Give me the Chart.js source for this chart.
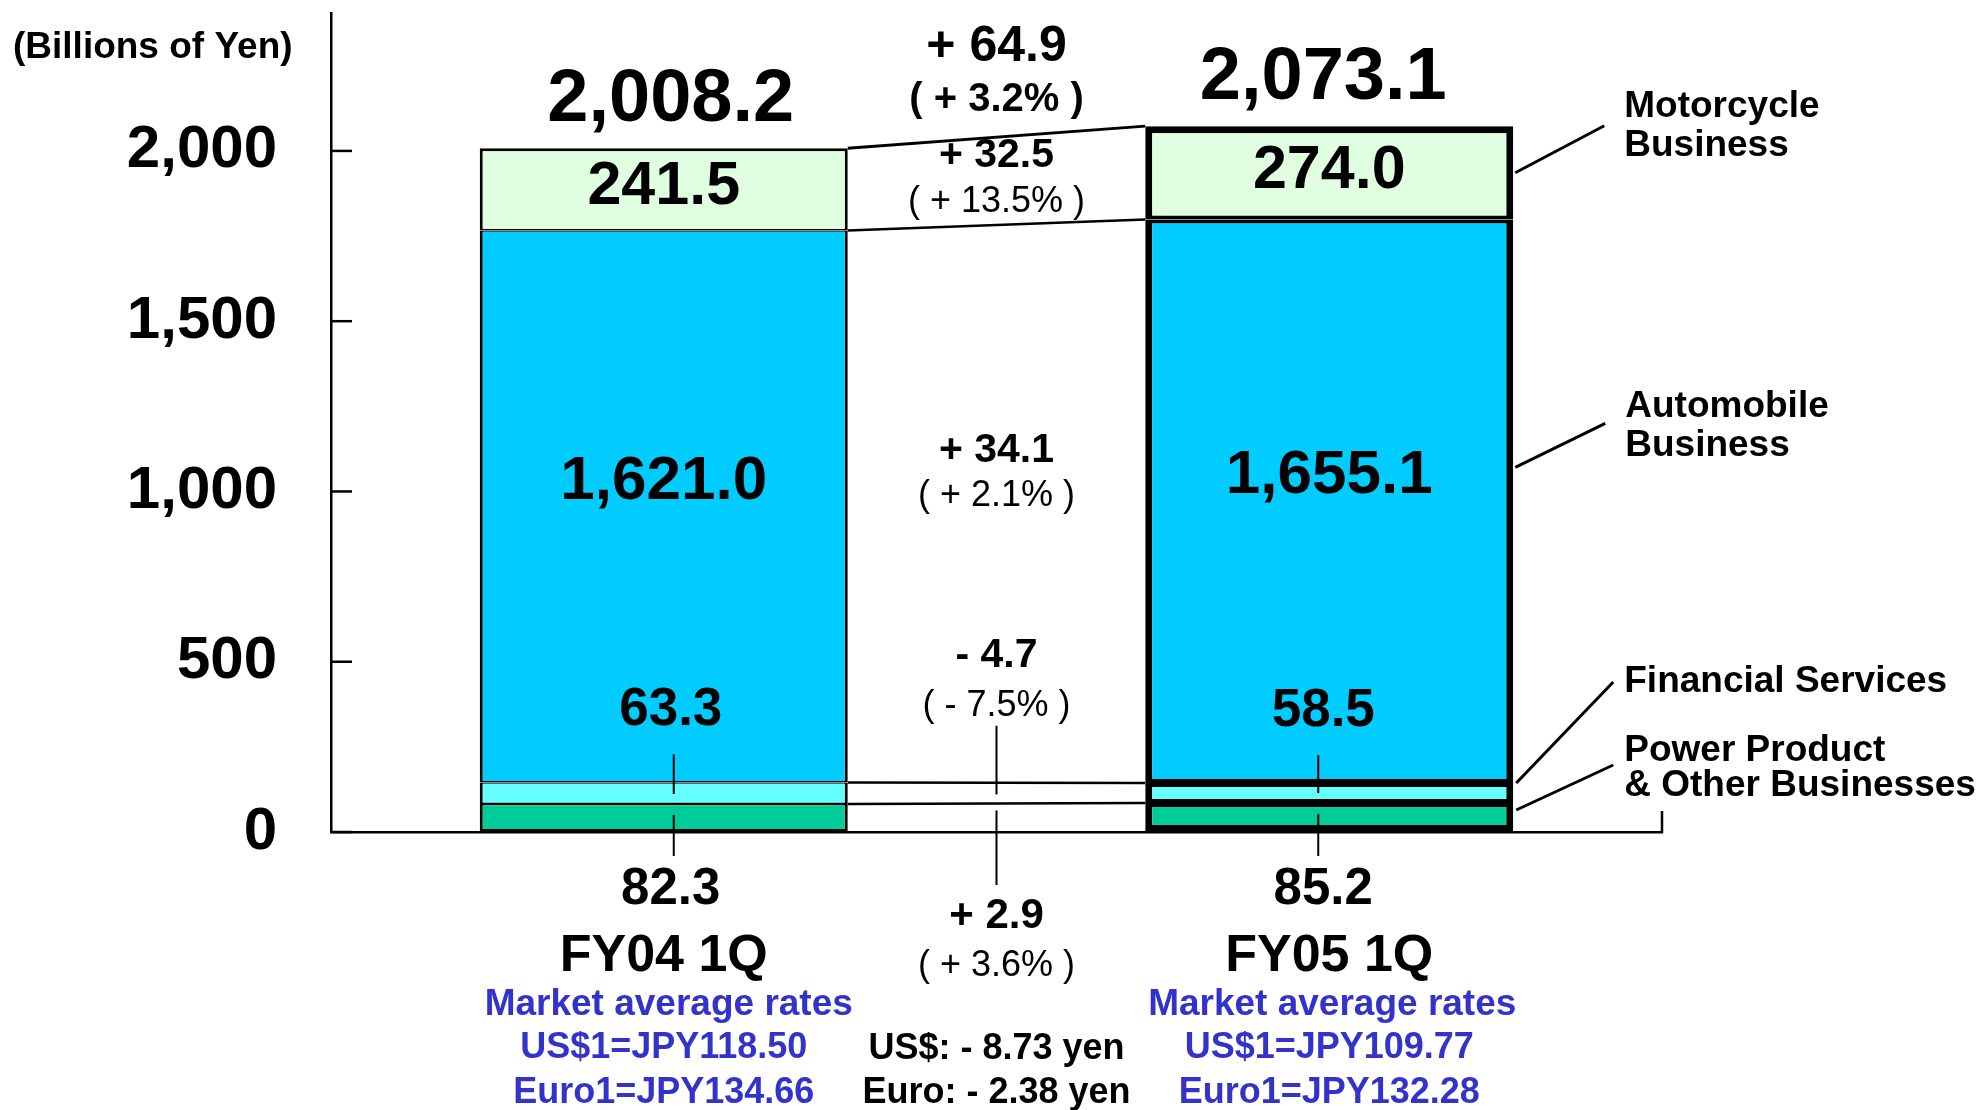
<!DOCTYPE html>
<html>
<head>
<meta charset="utf-8">
<script src="https://cdn.jsdelivr.net/npm/chart.js@4.4.1/dist/chart.umd.min.js"></script>
<style>
  html, body { margin: 0; padding: 0; background: #fff; }
  canvas { display: block; }
</style>
</head>
<body>
<canvas id="sales" width="1980" height="1110"></canvas>
<script>
// Net sales by business segment, first quarter comparison (billions of yen)
const categories = ['FY04 1Q', 'FY05 1Q'];
const segmentNames = ['Power Product & Other Businesses', 'Financial Services', 'Automobile Business', 'Motorcycle Business'];
const powerProduct = [82.3, 85.2];
const financialServices = [63.3, 58.5];
const automobile = [1621.0, 1655.1];
const motorcycle = [241.5, 274.0];
const totals = [2008.2, 2073.1];
const yTicks = [0, 500, 1000, 1500, 2000];
// year-on-year change: total, motorcycle, automobile, financial, power product
const changeAmounts = ['+ 64.9', '+ 32.5', '+ 34.1', '- 4.7', '+ 2.9'];
const changePercents = ['( + 3.2% )', '( + 13.5% )', '( + 2.1% )', '( - 7.5% )', '( + 3.6% )'];
const rateTitle = 'Market average rates';
const usdRates = ['US$1=JPY118.50', 'US$1=JPY109.77'];
const euroRates = ['Euro1=JPY134.66', 'Euro1=JPY132.28'];
const rateChanges = ['US$: - 8.73 yen', 'Euro: - 2.38 yen'];
const unitLabel = '(Billions of Yen)';
const sideLabels = [['Motorcycle', 'Business'], ['Automobile', 'Business'], ['Financial Services'], ['Power Product', '& Other Businesses']];

const FAMILY = '"Liberation Sans", Arial, Helvetica, sans-serif';
const segmentColors = ['#00CC99', '#66FFFF', '#00CCFF', '#E0FFE0'];
const BLUE = '#3333CC';

const fmt1 = v => v.toLocaleString('en-US', { minimumFractionDigits: 1, maximumFractionDigits: 1 });

const seriesList = [powerProduct, financialServices, automobile, motorcycle];

// thin outline on the first quarter, heavy outline on the current quarter
function segmentBorder(index) {
  return ctx => {
    const heavy = ctx.dataIndex === 1;
    const outer = heavy ? 7 : 3;
    const inner = heavy ? 4 : 1.4;
    return {
      left: outer,
      right: outer,
      top: index === seriesList.length - 1 ? outer : inner,
      bottom: index === 0 ? outer : inner
    };
  };
}

const datasets = seriesList.map((values, i) => ({
  label: segmentNames[i],
  data: values,
  backgroundColor: segmentColors[i],
  borderColor: '#000',
  borderSkipped: false,
  borderWidth: segmentBorder(i)
}));

function text(ctx, s, x, y, size, bold, color, align) {
  ctx.font = (bold ? 'bold ' : '') + size + 'px ' + FAMILY;
  ctx.fillStyle = color || '#000';
  ctx.textAlign = align || 'center';
  ctx.textBaseline = 'middle';
  ctx.fillText(s, x, y);
}

function line(ctx, x1, y1, x2, y2, w) {
  ctx.lineWidth = w;
  ctx.beginPath();
  ctx.moveTo(x1, y1);
  ctx.lineTo(x2, y2);
  ctx.stroke();
}

const annotations = {
  id: 'annotations',
  afterDraw(chart) {
    const { ctx, chartArea: area, scales: { y } } = chart;
    const metas = seriesList.map((_, i) => chart.getDatasetMeta(i));
    const el = (s, j) => metas[s].data[j];
    const base = y.getPixelForValue(0);
    const TOP = 3, AUTO = 2, FIN = 1, POW = 0;

    ctx.save();
    ctx.strokeStyle = '#000';
    ctx.lineCap = 'butt';

    // inward tick marks on the value axis
    yTicks.forEach(v => {
      const py = y.getPixelForValue(v);
      line(ctx, area.left, py, area.left + 21, py, 2.5);
    });
    // short upturn at the right end of the baseline
    line(ctx, area.right, base - 21, area.right, base + 1, 2.5);

    const b0 = el(0, 0), b1 = el(0, 1);
    const x0R = b0.x + b0.width / 2;
    const x1L = b1.x - b1.width / 2;
    const x1R = b1.x + b1.width / 2;
    const midX = (x0R + x1L) / 2;
    const shift = [7, -6];

    // connectors between segment boundaries of the two bars
    for (let s = 0; s < seriesList.length; s++) {
      line(ctx, x0R, el(s, 0).y, x1L, el(s, 1).y, s === TOP ? 3 : 2.5);
    }

    // per-bar labels
    categories.forEach((c, j) => {
      const cx = el(0, j).x;
      const top = el(TOP, j);
      const auto = el(AUTO, j);
      const fin = el(FIN, j);
      const pow = el(POW, j);

      text(ctx, fmt1(totals[j]), cx + shift[j], top.y - 48, 74, true);
      text(ctx, fmt1(motorcycle[j]), cx, (top.y + top.base) / 2 - 2, 61, true);
      text(ctx, fmt1(automobile[j]), cx, auto.y + 0.455 * (auto.base - auto.y), 62, true);
      text(ctx, fmt1(financialServices[j]), cx + shift[j], fin.y - 72, 53, true);
      text(ctx, fmt1(powerProduct[j]), cx + shift[j], base + 58, 51, true);

      const lx = cx + (j === 0 ? 10 : -11);
      line(ctx, lx, fin.y - 28, lx, pow.y - 10, 2);
      line(ctx, lx, pow.y + 11, lx, base + 24, 2);

      text(ctx, rateTitle, cx + (j === 0 ? 5 : 3), base + 173, 37, true, BLUE);
      text(ctx, usdRates[j], cx, base + 216, 36, true, BLUE);
      text(ctx, euroRates[j], cx, base + 261, 36, true, BLUE);
    });

    // change column between the bars
    const avgTop = (el(TOP, 0).y + el(TOP, 1).y) / 2;
    const avgAutoMid = (el(AUTO, 0).y + el(AUTO, 0).base + el(AUTO, 1).y + el(AUTO, 1).base) / 4;
    const avgFinTop = (el(FIN, 0).y + el(FIN, 1).y) / 2;
    const avgPowTop = (el(POW, 0).y + el(POW, 1).y) / 2;

    text(ctx, changeAmounts[0], midX, avgTop - 90, 50, true);
    text(ctx, changePercents[0], midX, avgTop - 37, 40, true);
    text(ctx, changeAmounts[1], midX, avgTop + 19, 41, true);
    text(ctx, changePercents[1], midX, avgTop + 65, 36, false);
    text(ctx, changeAmounts[2], midX, avgAutoMid - 53, 41, true);
    text(ctx, changePercents[2], midX, avgAutoMid - 8, 36, false);
    text(ctx, changeAmounts[3], midX, avgFinTop - 127, 41, true);
    text(ctx, changePercents[3], midX, avgFinTop - 77, 36, false);
    text(ctx, changeAmounts[4], midX, base + 84, 42, true);
    text(ctx, changePercents[4], midX, base + 134, 36, false);
    text(ctx, rateChanges[0], midX, base + 217, 36, true);
    text(ctx, rateChanges[1], midX, base + 261, 36, true);

    line(ctx, midX, avgFinTop - 57, midX, avgPowTop - 9, 2);
    line(ctx, midX, avgPowTop + 7, midX, base + 53, 2);

    // segment names on the right with leader lines
    const m = el(TOP, 1), a = el(AUTO, 1), f = el(FIN, 1), p = el(POW, 1);
    const tx = x1R + 111;
    const motoY = (m.y + m.base) / 2;
    line(ctx, x1R + 2, motoY, x1R + 91, motoY - 47, 3);
    text(ctx, sideLabels[0][0], tx, motoY - 66, 37, true, '#000', 'left');
    text(ctx, sideLabels[0][1], tx, motoY - 27, 37, true, '#000', 'left');

    const autoY = a.y + 0.44 * (a.base - a.y);
    line(ctx, x1R + 2, autoY, x1R + 92, autoY - 44, 3);
    text(ctx, sideLabels[1][0], tx + 1, autoY - 61, 37, true, '#000', 'left');
    text(ctx, sideLabels[1][1], tx + 1, autoY - 22, 37, true, '#000', 'left');

    line(ctx, x1R + 3, f.y, x1R + 100, f.y - 101, 3);
    text(ctx, sideLabels[2][0], tx, f.y - 101, 37, true, '#000', 'left');

    line(ctx, x1R + 3, p.y + 7, x1R + 100, p.y - 38, 3);
    text(ctx, sideLabels[3][0], tx, p.y - 52, 37, true, '#000', 'left');
    text(ctx, sideLabels[3][1], tx, p.y - 17, 37, true, '#000', 'left');

    // unit caption
    text(ctx, unitLabel, 13, 48, 37, true, '#000', 'left');

    ctx.restore();
  }
};

new Chart(document.getElementById('sales'), {
  type: 'bar',
  data: { labels: categories, datasets },
  options: {
    responsive: false,
    animation: false,
    devicePixelRatio: 1,
    layout: { padding: { left: 0, right: 318, top: 13, bottom: 0 } },
    plugins: { legend: { display: false }, tooltip: { enabled: false } },
    datasets: { bar: { categoryPercentage: 1, barPercentage: 0.553 } },
    scales: {
      x: {
        stacked: true,
        grid: { display: false, drawTicks: false },
        border: { display: true, color: '#000', width: 2.5 },
        ticks: {
          color: '#000',
          font: { family: FAMILY, size: 52, weight: 'bold' },
          padding: 93,
          maxRotation: 0,
          autoSkip: false
        },
        afterFit: s => {
          s.height = 278;
          s.paddingLeft = 0;
          s.paddingRight = 0;
        }
      },
      y: {
        stacked: true,
        min: 0,
        max: 2405,
        grid: { display: false, drawTicks: false },
        border: { display: true, color: '#000', width: 2.5 },
        afterBuildTicks: s => { s.ticks = yTicks.map(v => ({ value: v })); },
        ticks: {
          color: '#000',
          font: { family: FAMILY, size: 60, weight: 'bold' },
          padding: 54,
          callback: v => v.toLocaleString('en-US')
        },
        afterFit: s => {
          s.width = 331;
          s.paddingTop = 0;
          s.paddingBottom = 0;
        }
      }
    }
  },
  plugins: [annotations]
});
</script>
</body>
</html>
